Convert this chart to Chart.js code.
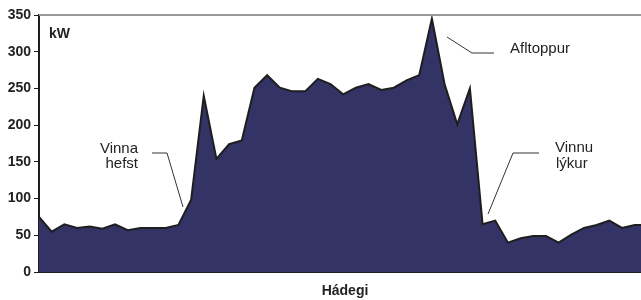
<!DOCTYPE html>
<html lang="is">
<head>
    <meta charset="UTF-8">
    <title>Álag yfir daginn</title>
    <script src="https://cdn.jsdelivr.net/npm/chart.js"></script>
    <style>
        html, body { margin: 0; padding: 0; background: #fff; }
        canvas { display: block; }
    </style>
</head>
<body>
    <canvas id="loadChart" width="641" height="300"></canvas>
    <script>
        // álag í kW, hálftíma gildi
        const kw = [75, 55, 65, 60, 62, 59, 65, 57, 60, 60, 60, 64, 98, 240, 154, 174, 179,
                    251, 268, 251, 246, 246, 263, 256, 242, 251, 256, 248, 251, 261, 268, 345,
                    256, 201, 250, 65, 70, 40, 46, 49, 49, 40, 51, 60, 64, 70, 60, 64, 64];
        const yTicks = [0, 50, 100, 150, 200, 250, 300, 350];
        const unitLabel = 'kW';
        const xLabel = 'Hádegi';

        const points = kw.map((v, i) => ({ x: i, y: v }));

        // texti og vísilínur
        const notes = {
            id: 'notes',
            afterDraw(chart) {
                const c = chart.ctx;
                const a = chart.chartArea;
                c.save();
                // grá lína efst
                c.strokeStyle = '#999';
                c.lineWidth = 2;
                c.beginPath();
                c.moveTo(a.left, a.top);
                c.lineTo(a.right, a.top);
                c.stroke();

                c.fillStyle = '#222';
                c.font = 'bold 14px "Liberation Sans", Arial, sans-serif';
                c.textAlign = 'left';
                c.textBaseline = 'alphabetic';
                c.fillText(unitLabel, 49, 38);
                c.textAlign = 'center';
                c.fillText(xLabel, 345, 295);

                c.font = '15px "Liberation Sans", Arial, sans-serif';
                c.textAlign = 'right';
                c.fillText('Vinna', 138, 153);
                c.fillText('hefst', 138, 168);
                c.textAlign = 'left';
                c.fillText('Afltoppur', 510, 53);
                c.fillText('Vinnu', 555, 152);
                c.fillText('lýkur', 556, 168);

                c.strokeStyle = '#333';
                c.lineWidth = 1;
                c.beginPath();
                c.moveTo(152, 153); c.lineTo(167, 153); c.lineTo(183, 207);
                c.moveTo(494, 53); c.lineTo(472, 53); c.lineTo(447, 37);
                c.moveTo(539, 153); c.lineTo(513, 153); c.lineTo(488, 214);
                c.stroke();
                c.restore();
            }
        };

        new Chart(document.getElementById('loadChart'), {
            type: 'line',
            data: {
                datasets: [{
                    data: points,
                    borderColor: '#1e1e1e',
                    borderWidth: 2,
                    backgroundColor: '#333366',
                    fill: 'origin',
                    tension: 0,
                    pointRadius: 0
                }]
            },
            options: {
                responsive: false,
                animation: false,
                layout: { padding: { top: 15, right: 0, left: 0, bottom: 0 } },
                plugins: { legend: { display: false }, tooltip: { enabled: false } },
                scales: {
                    x: {
                        type: 'linear',
                        min: 0,
                        max: 47.5,
                        ticks: { display: false },
                        grid: { display: false },
                        border: { color: '#1e1e1e', width: 2 },
                        afterFit(s) { s.height = 28; }
                    },
                    y: {
                        min: 0,
                        max: 350,
                        afterBuildTicks(s) { s.ticks = yTicks.map(v => ({ value: v })); },
                        ticks: {
                            padding: 3,
                            color: '#222',
                            font: { family: '"Liberation Sans", Arial, sans-serif', size: 14, weight: 'bold' }
                        },
                        grid: { drawOnChartArea: false, tickLength: 5, color: '#1e1e1e', tickWidth: 1 },
                        border: { color: '#1e1e1e', width: 2 },
                        afterFit(s) { s.width = 39; }
                    }
                }
            },
            plugins: [notes]
        });
    </script>
</body>
</html>
